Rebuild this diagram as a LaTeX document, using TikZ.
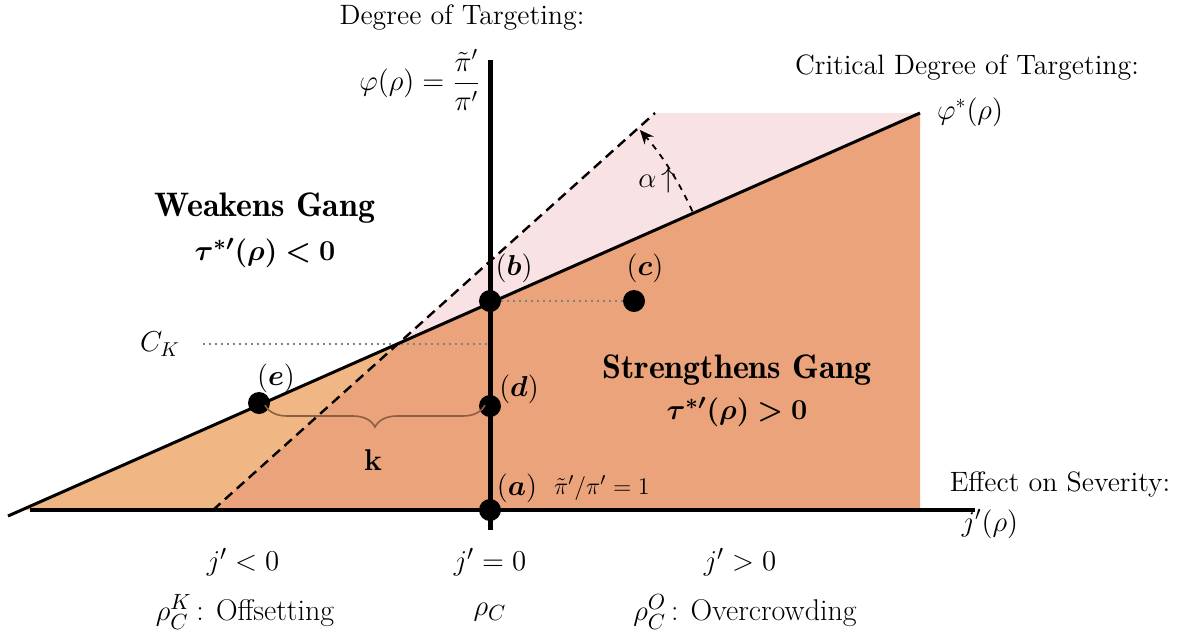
\documentclass[tikz,border=0pt]{standalone}
\usepackage{amsmath,bm}
\usetikzlibrary{decorations.pathreplacing,arrows.meta,calc}
\definecolor{darkor}{RGB}{234,163,122}
\definecolor{lightor}{RGB}{240,182,132}
\definecolor{pinkr}{RGB}{249,226,227}
\definecolor{bracec}{RGB}{140,95,65}
\begin{document}
\begin{tikzpicture}[x=0.5pt,y=-0.5pt,
  dot/.style={circle,fill=black,inner sep=0pt,minimum size=11pt},
  txt/.style={font=\fontsize{14}{16}\selectfont},
  small/.style={font=\fontsize{12.5}{14}\selectfont},
  bot/.style={font=\fontsize{15}{17}\selectfont},
  big/.style={font=\fontsize{17}{19}\selectfont\fontseries{b}\selectfont},
  mid/.style={font=\fontsize{15}{17}\selectfont},
  dotline/.style={gray,dotted,line width=1pt},
  axis/.style={line width=2pt},
  philine/.style={line width=1.5pt},
  dashline/.style={dashed,line width=1.2pt,dash pattern=on 5pt off 3pt}]
\useasboundingbox (0,0) rectangle (1185,639);
% key coordinates
\coordinate (L) at (8,516);
\coordinate (L0) at (21.6,510);
\coordinate (R) at (920,113);
\coordinate (Rb) at (920,510);
\coordinate (X) at (398.7,343.3);
\coordinate (D0) at (213,510);
\coordinate (D1) at (655,113);
\coordinate (Ax0) at (30,510);
\coordinate (Ax1) at (975,510);
\coordinate (V0) at (490,60);
\coordinate (V1) at (490,530);
% regions
\fill[pinkr] (X) -- (D1) -- (R) -- cycle;
\fill[lightor] (L0) -- (D0) -- (X) -- cycle;
\fill[darkor] (D0) -- (X) -- (R) -- (Rb) -- cycle;
% dotted guides
\node[txt] (ck) at (160,344) {$C_K$};
\coordinate (ckend) at (496,344);
\draw[dotline] (ck.east) ++(8pt,0) -- (ckend);
% lines
\draw[philine] (L) -- (R);
\draw[dashline] (D0) -- (D1);
\draw[axis] (Ax0) -- (Ax1);
\draw[line width=2.5pt] (V0) -- (V1);
% points
\node[dot] (a) at (490,510) {};
\node[dot] (b) at (490,301) {};
\node[dot] (c) at (634,301) {};
\node[dot] (d) at (490,406) {};
\node[dot] (e) at (259,403) {};
\draw[dotline] (b) -- (c);
% point labels
\node[mid] at (514,268) {$(\bm{b})$};
\node[mid] at (645,268) {$(\bm{c})$};
\node[mid] at (519,389) {$(\bm{d})$};
\node[mid] at (517,488) {$(\bm{a})$};
\node[mid] at (276,378) {$(\bm{e})$};
\node[small] at (602,488) {$\tilde{\pi}'/\pi' = 1$};
% brace k
\coordinate (k0) at (265,405);
\coordinate (k1) at (485,405);
\draw[bracec,line width=0.8pt,decorate,decoration={brace,mirror,amplitude=11pt}] (k0) -- (k1);
\node[font=\fontsize{15}{17}\selectfont\bfseries] (k) at (373,460) {k};
% alpha arc
\draw[dashed,line width=0.9pt,-{Stealth[length=7pt,width=6pt]}] ($(X)+(-24.2:322)$) arc (-24.2:-41.5:322);
\node[mid] at (657,180) {$\alpha\,{\uparrow}$};
% region labels
\node[big] at (265,208) {Weakens Gang};
\node[mid] at (265,253) {$\bm{\tau^{*\prime}(\rho) < 0}$};
\node[big] at (737,370) {Strengthens Gang};
\node[mid] at (737,412) {$\bm{\tau^{*\prime}(\rho) > 0}$};
% axis labels
\node[txt] at (462,18) {Degree of Targeting:};
\node[txt] at (420,80) {$\varphi(\rho)=\dfrac{\tilde{\pi}'}{\pi'}$};
\node[txt] at (967,68) {Critical Degree of Targeting:};
\node[txt] at (970,112) {$\varphi^{*}(\rho)$};
\node[txt] at (1060,484) {Effect on Severity:};
\node[txt] at (990,524) {$j'(\rho)$};
\node[bot] at (243,562) {$j' < 0$};
\node[bot] at (490,562) {$j' = 0$};
\node[bot] at (740,562) {$j' > 0$};
\node[bot] at (245,612) {$\rho_C^K$\,: Offsetting};
\node[bot] at (490,612) {$\rho_C$};
\node[bot] at (745,612) {$\rho_C^O$\,: Overcrowding};
\end{tikzpicture}
\end{document}
